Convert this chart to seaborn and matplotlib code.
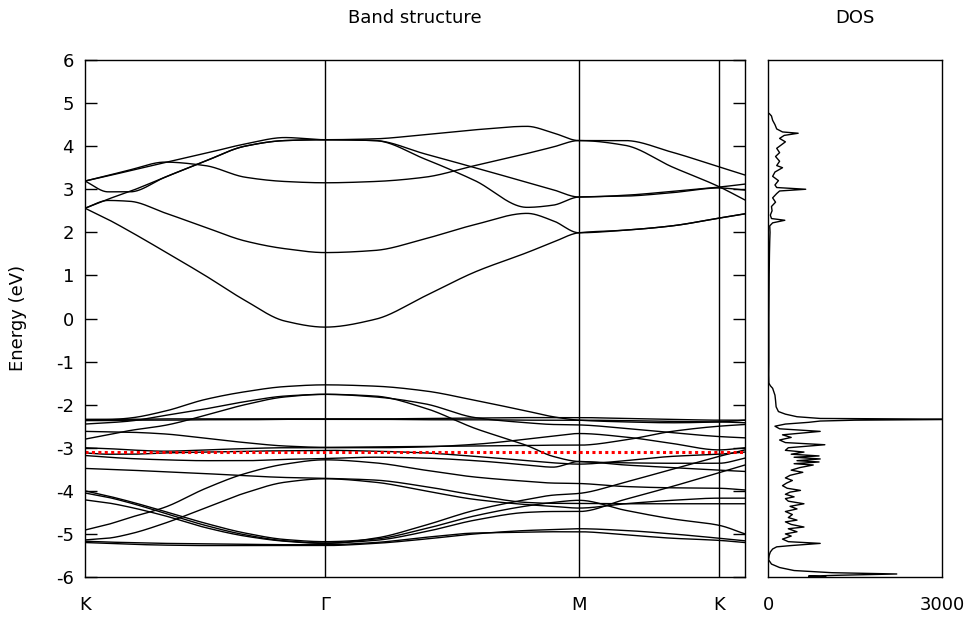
import numpy as np
import pandas as pd
import matplotlib
matplotlib.use("Agg")
import matplotlib.pyplot as plt
import seaborn as sns

# ---------------- data ----------------
# k-path node positions (path length units), high-symmetry points K, Γ, M, K
k_nodes = [0, 23, 45, 80, 120, 160, 200, 240, 290, 340, 390, 442, 468, 494, 540, 587, 634, 660]
sym_pos = [0, 240, 494, 634]
sym_labels = ["K", "Γ", "M", "K"]
k_max = 660

# conduction bands (eV) at k_nodes
c1 = [2.56, 2.30, 2.02, 1.55, 1.00, 0.42, -0.06, -0.20, -0.02, 0.52, 1.08, 1.53, 1.77, 1.99, 2.05, 2.15, 2.33, 2.43]
c2 = [2.56, 2.74, 2.72, 2.45, 2.12, 1.80, 1.62, 1.53, 1.58, 1.85, 2.18, 2.44, 2.27, 1.99, 2.05, 2.15, 2.33, 2.43]
c3 = [2.56, 2.77, 2.95, 3.28, 3.65, 4.00, 4.13, 4.15, 4.13, 3.82, 3.50, 3.16, 2.99, 2.82, 2.86, 2.95, 3.05, 3.12]
c4 = [3.19, 3.32, 3.45, 3.63, 3.55, 3.28, 3.18, 3.15, 3.18, 3.28, 3.55, 3.83, 3.98, 4.13, 4.02, 3.52, 3.06, 2.75]
c5 = [3.19, 3.31, 3.43, 3.62, 3.83, 4.05, 4.20, 4.15, 4.17, 4.27, 4.38, 4.46, 4.31, 4.13, 4.13, 3.86, 3.52, 3.33]
c6 = [3.19, 2.94, 2.94, 3.28, 3.65, 4.00, 4.13, 4.15, 4.13, 3.70, 3.20, 2.58, 2.63, 2.82, 2.84, 2.92, 3.03, 2.98]

# valence bands (eV) at k_nodes
v1 = [-2.36, -2.35, -2.31, -2.15, -1.88, -1.70, -1.58, -1.54, -1.57, -1.68, -1.90, -2.15, -2.28, -2.36, -2.40, -2.42, -2.40, -2.36]
v2 = [-2.45, -2.42, -2.38, -2.25, -2.10, -1.93, -1.80, -1.76, -1.82, -1.98, -2.30, -2.42, -2.46, -2.47, -2.55, -2.65, -2.74, -2.77]
v3 = [-2.80, -2.70, -2.60, -2.48, -2.25, -2.00, -1.82, -1.76, -1.80, -2.08, -2.55, -2.95, -3.20, -3.32, -3.35, -3.36, -3.36, -3.24]
v4 = [-2.34, -2.34, -2.34, -2.33, -2.33, -2.33, -2.33, -2.33, -2.33, -2.32, -2.31, -2.30, -2.30, -2.30, -2.32, -2.34, -2.36, -2.36]
v5 = [-2.37, -2.37, -2.36, -2.36, -2.35, -2.35, -2.34, -2.34, -2.34, -2.35, -2.35, -2.36, -2.36, -2.36, -2.37, -2.39, -2.40, -2.42]
v6 = [-2.62, -2.63, -2.64, -2.68, -2.78, -2.88, -2.96, -2.99, -2.98, -2.97, -2.96, -2.95, -2.94, -2.94, -2.82, -2.62, -2.50, -2.46]
v7 = [-3.00, -3.02, -3.05, -3.08, -3.05, -3.02, -3.00, -3.00, -3.00, -2.98, -2.92, -2.80, -2.73, -2.67, -2.75, -2.90, -3.05, -3.00]
v8 = [-3.12, -3.15, -3.15, -3.12, -3.10, -3.08, -3.07, -3.06, -3.08, -3.12, -3.20, -3.30, -3.35, -3.38, -3.30, -3.20, -3.15, -3.10]
v9 = [-3.18, -3.22, -3.25, -3.28, -3.30, -3.30, -3.27, -3.25, -3.22, -3.24, -3.30, -3.40, -3.45, -3.32, -3.40, -3.46, -3.52, -3.55]
v10 = [-3.48, -3.50, -3.52, -3.56, -3.60, -3.65, -3.69, -3.71, -3.75, -3.90, -4.10, -4.27, -4.29, -4.29, -4.30, -4.30, -4.30, -4.30]
v11 = [-4.00, -4.12, -4.25, -4.48, -4.75, -4.98, -5.13, -5.18, -5.12, -4.88, -4.58, -4.35, -4.27, -4.22, -4.45, -4.65, -4.80, -5.00]
v12 = [-4.05, -4.15, -4.28, -4.52, -4.80, -5.02, -5.16, -5.21, -5.15, -4.95, -4.68, -4.50, -4.48, -4.48, -4.20, -3.90, -3.58, -3.40]
v13 = [-4.21, -4.28, -4.38, -4.58, -4.85, -5.05, -5.17, -5.22, -5.10, -4.80, -4.45, -4.20, -4.10, -4.06, -3.80, -3.50, -3.20, -3.05]
v14 = [-4.91, -4.78, -4.62, -4.38, -3.95, -3.60, -3.38, -3.28, -3.35, -3.52, -3.68, -3.78, -3.82, -3.83, -3.90, -3.93, -3.94, -3.98]
v15 = [-5.14, -5.10, -5.00, -4.75, -4.40, -4.05, -3.80, -3.72, -3.80, -4.00, -4.20, -4.32, -4.36, -4.40, -4.30, -4.22, -4.17, -4.17]
v16 = [-5.20, -5.22, -5.24, -5.26, -5.27, -5.27, -5.27, -5.27, -5.22, -5.12, -5.00, -4.92, -4.90, -4.88, -4.92, -5.00, -5.10, -5.16]
v17 = [-5.17, -5.19, -5.20, -5.22, -5.23, -5.24, -5.25, -5.25, -5.20, -5.08, -4.98, -4.96, -4.95, -4.95, -5.02, -5.10, -5.15, -5.20]

fermi_level = -3.11

# density of states
dos_energy = [-6.00, -5.98, -5.96, -5.93, -5.90, -5.85, -5.78, -5.70, -5.60, -5.50, -5.42, -5.35, -5.30,
              -5.27, -5.22, -5.18, -5.12, -5.05, -5.00, -4.95, -4.88, -4.84, -4.78, -4.72, -4.68, -4.62,
              -4.55, -4.48, -4.42, -4.36, -4.30, -4.24, -4.18, -4.14, -4.08, -4.03, -3.99, -3.94, -3.88,
              -3.82, -3.76, -3.70, -3.64, -3.57, -3.52, -3.46, -3.40, -3.37, -3.33, -3.30, -3.26, -3.22,
              -3.19, -3.15, -3.10, -3.06, -3.00, -2.93, -2.88, -2.82, -2.76, -2.70, -2.62, -2.56, -2.50,
              -2.45, -2.41, -2.38, -2.36, -2.34, -2.32, -2.28, -2.22, -2.16, -2.05, -1.90, -1.78, -1.70,
              -1.62, -1.56, -1.50, -1.30, -1.00, 0.00, 1.00, 1.50, 1.80, 2.00, 2.15, 2.22, 2.28, 2.32,
              2.40, 2.50, 2.60, 2.70, 2.80, 2.90, 2.96, 3.00, 3.04, 3.10, 3.20, 3.30, 3.40, 3.50, 3.55,
              3.65, 3.76, 3.85, 3.95, 4.00, 4.10, 4.18, 4.25, 4.30, 4.33, 4.40, 4.50, 4.60, 4.70, 4.76]
dos_states = [1000, 700, 1200, 2220, 1100, 450, 200, 60, 10, 20, 40, 80, 150,
              400, 900, 350, 250, 400, 300, 500, 350, 620, 400, 300, 500, 350,
              420, 300, 500, 380, 620, 350, 300, 450, 300, 380, 560, 330, 250,
              320, 420, 300, 380, 600, 400, 550, 780, 450, 880, 500, 900, 450,
              880, 400, 620, 300, 350, 980, 300, 200, 400, 250, 900, 200, 120,
              300, 700, 900, 1500, 3600, 900, 500, 300, 180, 140, 130, 120, 100,
              80, 40, 15, 12, 15, 15, 20, 25, 30, 35, 30, 80, 290, 60,
              40, 70, 60, 130, 80, 150, 200, 650, 150, 120, 180, 80, 120, 250, 150,
              200, 130, 200, 150, 200, 300, 200, 280, 520, 250, 150, 120, 80, 60, 20]
dos_max = 3000

bands = {"c1": c1, "c2": c2, "c3": c3, "c4": c4, "c5": c5, "c6": c6,
         "v1": v1, "v2": v2, "v3": v3, "v4": v4, "v5": v5, "v6": v6, "v7": v7,
         "v8": v8, "v9": v9, "v10": v10, "v11": v11, "v12": v12, "v13": v13,
         "v14": v14, "v15": v15, "v16": v16, "v17": v17}


def pchip(x, y, xq):
    x = np.asarray(x, float)
    y = np.asarray(y, float)
    h = np.diff(x)
    d = np.diff(y) / h
    n = len(x)
    m = np.zeros(n)
    for k in range(1, n - 1):
        if d[k - 1] * d[k] > 0:
            w1 = 2 * h[k] + h[k - 1]
            w2 = h[k] + 2 * h[k - 1]
            m[k] = (w1 + w2) / (w1 / d[k - 1] + w2 / d[k])
    m[0] = d[0]
    m[-1] = d[-1]
    idx = np.clip(np.searchsorted(x, xq, side="right") - 1, 0, n - 2)
    t = (xq - x[idx]) / h[idx]
    h00 = 2 * t**3 - 3 * t**2 + 1
    h10 = t**3 - 2 * t**2 + t
    h01 = -2 * t**3 + 3 * t**2
    h11 = t**3 - t**2
    return h00 * y[idx] + h10 * h[idx] * m[idx] + h01 * y[idx + 1] + h11 * h[idx] * m[idx + 1]


kq = np.linspace(0, k_max, 1321)
frames = []
for name, vals in bands.items():
    frames.append(pd.DataFrame({"k": kq, "E": pchip(k_nodes, vals, kq), "band": name}))
band_df = pd.concat(frames, ignore_index=True)
dos_df = pd.DataFrame({"E": dos_energy, "D": dos_states})

# ---------------- plot ----------------
sns.set_style("white")
plt.rcParams["font.family"] = ["Liberation Sans Narrow", "DejaVu Sans"]
plt.rcParams["font.size"] = 13
plt.rcParams["axes.unicode_minus"] = False
plt.rcParams["text.color"] = "black"
plt.rcParams["xtick.color"] = "black"
plt.rcParams["ytick.color"] = "black"
plt.rcParams["xtick.labelcolor"] = "black"
plt.rcParams["ytick.labelcolor"] = "black"

W, H = 975, 620
fig = plt.figure(figsize=(W / 100, H / 100), dpi=100)
ax = fig.add_axes([85 / W, 1 - 577 / H, 660 / W, 517 / H])
ax2 = fig.add_axes([768 / W, 1 - 577 / H, 174 / W, 517 / H])

sns.lineplot(data=band_df, x="k", y="E", units="band", estimator=None,
             color="black", lw=1.0, ax=ax)
for p in sym_pos[1:]:
    ax.axvline(p, color="black", lw=1.0)
ax.axhline(fermi_level, color="red", lw=2.2, ls=(0, (1, 1.1)))

ax.set_xlim(0, k_max)
ax.set_ylim(-6, 6)
ax.set_xticks(sym_pos)
ax.set_xticklabels(sym_labels)
ax.set_yticks(range(-6, 7))
ax.set_xlabel("")
ax.set_ylabel("")
ax.tick_params(axis="y", direction="in", length=8.6, width=1, left=True, right=True,
               labelsize=13, pad=8, color="black", labelcolor="black")
ax.tick_params(axis="x", length=0, labelsize=13, pad=14, labelcolor="black")

sns.lineplot(data=dos_df, x="D", y="E", sort=False, estimator=None, orient="y",
             color="black", lw=1.0, ax=ax2)
ax2.set_xlim(0, dos_max)
ax2.set_ylim(-6, 6)
ax2.set_xticks([0, dos_max])
ax2.set_xticklabels(["0", "3000"])
ax2.set_yticks([])
ax2.set_xlabel("")
ax2.set_ylabel("")
ax2.tick_params(axis="x", length=0, labelsize=13, pad=14, labelcolor="black")

for a in (ax, ax2):
    for s in a.spines.values():
        s.set_visible(True)
        s.set_color("black")
        s.set_linewidth(1.0)

fig.text(415 / W, 1 - 18 / H, "Band structure", ha="center", va="center", fontsize=13, color="black")
fig.text(855 / W, 1 - 18 / H, "DOS", ha="center", va="center", fontsize=13, color="black")
fig.text(18 / W, 1 - 318 / H, "Energy (eV)", ha="center", va="center", rotation=90,
         fontsize=13, color="black")

fig.savefig("out.png", dpi=100)
